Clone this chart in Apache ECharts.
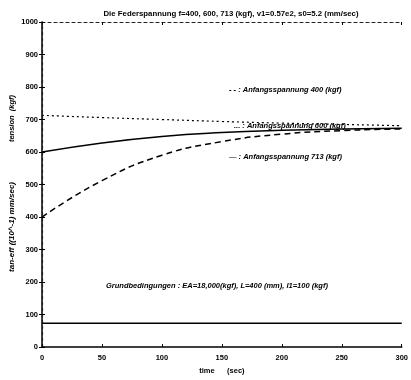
<!DOCTYPE html>
<html>
<head>
<meta charset="utf-8">
<script src="https://cdn.jsdelivr.net/npm/echarts@6/dist/echarts.min.js"></script>
<style>
  html, body { margin: 0; padding: 0; background: #fff; }
  #chart { width: 411px; height: 380px; }
</style>
</head>
<body>
<div id="chart"></div>
<script>
// time axis (sec)
const times = [0, 50, 100, 150, 200, 250, 300];
// spring tension curves (kgf)
const tension400 = [400, 512, 590, 632, 655, 666, 671];
const tension600 = [600, 628, 648, 660, 667, 671, 673];
const tension713 = [713, 706, 700, 694, 689, 685, 681];
// lower constant line
const baseLine = [73, 73, 73, 73, 73, 73, 73];

const font = "Liberation Sans";

const toPairs = (vals) => times.map((t, i) => [t, vals[i]]);

const chart = echarts.init(document.getElementById("chart"));

const labelStyle = { fontSize: 7.5, fontWeight: "bold", color: "#000" };
const tickStyle = { show: true, inside: true, length: 3, lineStyle: { color: "#000" } };
const noteStyle = (text, size) => ({ text, fontSize: size || 7.5, fontWeight: "bold", fontStyle: "italic", fill: "#000", fontFamily: font });

const option = {
    animation: false,
    backgroundColor: "#fff",
    textStyle: { fontFamily: font },
    title: {
        text: "Die Federspannung f=400, 600, 713 (kgf), v1=0.57e2, s0=5.2 (mm/sec)",
        left: 226,
        textAlign: "center",
        top: 5,
        textStyle: { fontSize: 7.8, fontWeight: "bold", color: "#000", fontFamily: font },
    },
    grid: { left: 42, right: 6, top: 22, bottom: 25 },
    xAxis: [
        {
            type: "value",
            min: 0,
            max: 300,
            interval: 50,
            name: "time      (sec)",
            nameLocation: "middle",
            nameGap: 18,
            nameTextStyle: labelStyle,
            axisLine: { show: true, onZero: false, lineStyle: { color: "#000", width: 1.5 } },
            axisTick: tickStyle,
            axisLabel: Object.assign({ margin: 7 }, labelStyle),
            splitLine: { show: false },
        },
        {
            type: "value",
            position: "top",
            min: 0,
            max: 300,
            interval: 50,
            axisLine: { show: true, onZero: false, lineStyle: { color: "#222", width: 1.2, type: [3, 3] } },
            axisTick: tickStyle,
            axisLabel: { show: false },
            splitLine: { show: false },
        },
    ],
    yAxis: [
        {
            type: "value",
            min: 0,
            max: 1000,
            interval: 100,
            axisLine: { show: true, lineStyle: { color: "#000", width: 1.5 } },
            axisTick: tickStyle,
            axisLabel: Object.assign({ margin: 4, formatter: (v) => String(v) }, labelStyle),
            splitLine: { show: false },
        },
        {
            type: "value",
            position: "right",
            min: 0,
            max: 1000,
            interval: 100,
            axisLine: { show: true, lineStyle: { color: "#222", width: 1.2, type: [3, 3] } },
            axisTick: tickStyle,
            axisLabel: { show: false },
            splitLine: { show: false },
        },
    ],
    graphic: [
        { type: "text", left: 8, top: 95, rotation: Math.PI / 2, style: noteStyle("tension  (kgf)") },
        { type: "text", left: 8, top: 182, rotation: Math.PI / 2, style: noteStyle("tan-eff ((10^-1) mm/sec)", 8) },
        { type: "text", left: 229, top: 86, style: noteStyle("- - : Anfangsspannung 400 (kgf)") },
        { type: "text", left: 234, top: 122, style: noteStyle("... : Anfangsspannung 600 (kgf)") },
        { type: "text", left: 229, top: 153, style: noteStyle("— : Anfangsspannung 713 (kgf)") },
        { type: "text", left: 106, top: 282, style: noteStyle("Grundbedingungen : EA=18,000(kgf), L=400 (mm), l1=100 (kgf)") },
    ],
    series: [
        {
            name: "400",
            type: "line",
            data: toPairs(tension400),
            smooth: true,
            showSymbol: false,
            lineStyle: { color: "#000", width: 1.5, type: [6, 4] },
        },
        {
            name: "600",
            type: "line",
            data: toPairs(tension600),
            smooth: true,
            showSymbol: false,
            lineStyle: { color: "#000", width: 1.5, type: "solid" },
        },
        {
            name: "713",
            type: "line",
            data: toPairs(tension713),
            smooth: true,
            showSymbol: false,
            lineStyle: { color: "#000", width: 1.2, type: [2, 3] },
        },
        {
            name: "base",
            type: "line",
            data: toPairs(baseLine),
            showSymbol: false,
            lineStyle: { color: "#000", width: 1.5, type: "solid" },
        },
    ],
};

chart.setOption(option);
</script>
</body>
</html>
